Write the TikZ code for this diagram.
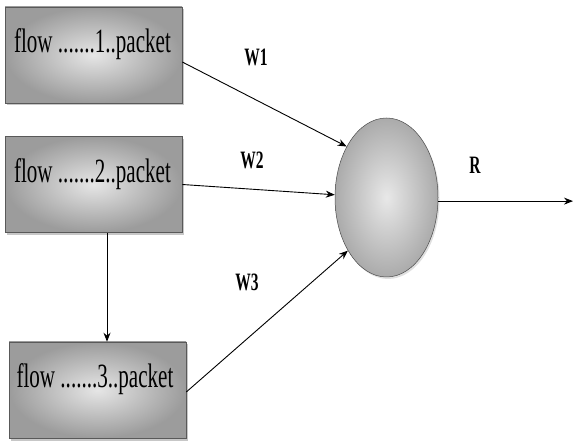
\documentclass[tikz,border=0pt]{standalone}
\usepackage{fontspec}
\setmainfont{Liberation Serif}
\newfontfamily\narrowserif[FakeStretch=0.62]{Liberation Serif}
\usetikzlibrary{arrows.meta,shapes.geometric,shadows}

\tikzset{
  flowbox/.style={draw=gray!70!black, line width=0.6pt, minimum width=177pt,
    minimum height=96pt, inner sep=0pt,
    inner color=gray!20, outer color=gray!78,
    drop shadow={shadow xshift=2pt, shadow yshift=-2.5pt, fill=gray!55, opacity=0.8}},
  flowtext/.style={anchor=base, inner sep=0pt, font=\narrowserif\fontsize{34}{36}\selectfont},
  hub/.style={ellipse, draw=gray!60!black, line width=0.5pt, minimum width=103pt,
    minimum height=159pt, inner sep=0pt, inner color=gray!18, outer color=gray!66,
    drop shadow={shadow xshift=1.5pt, shadow yshift=-2pt, fill=gray!40, opacity=0.6}},
  wlabel/.style={inner sep=0pt, font=\narrowserif\bfseries\fontsize{25}{27}\selectfont},
  arr/.style={-{Stealth[length=9pt,width=7pt]}, line width=0.9pt, black}
}

\begin{document}
\begin{tikzpicture}[x=1pt, y=-1pt]
  \useasboundingbox (0,0) rectangle (573,443);

  % packet flow boxes
  \node[flowbox] (f1) at (93.5,55) {};
  \node[flowbox] (f2) at (93.5,184.5) {};
  \node[flowbox] (f3) at (97.5,390) {};
  \node[flowtext] (t1) at (92.5,53) {flow .......1..packet};
  \node[flowtext] (t2) at (92.5,183) {flow .......2..packet};
  \node[flowtext] (t3) at (95,388) {flow .......3..packet};

  % merging node
  \node[hub] (c) at (386.5,197.5) {};

  % weighted inputs and output
  \draw[arr] ([yshift=-7pt]f1.east) -- (c.128);
  \draw[arr] (f2.east) -- (c.177);
  \draw[arr] ([yshift=-2pt]f3.east) -- (c.234);
  \draw[arr] ([xshift=13.5pt]f2.south) -- ([xshift=9.5pt]f3.north);
  \coordinate (out) at (573,203);
  \draw[arr] (c.-4) -- (c.-4 -| out);

  \node[wlabel] (w1) at (256,57) {W1};
  \node[wlabel] (w2) at (252,160) {W2};
  \node[wlabel] (w3) at (247,282) {W3};
  \node[wlabel] (r) at (475,165) {R};
\end{tikzpicture}
\end{document}
